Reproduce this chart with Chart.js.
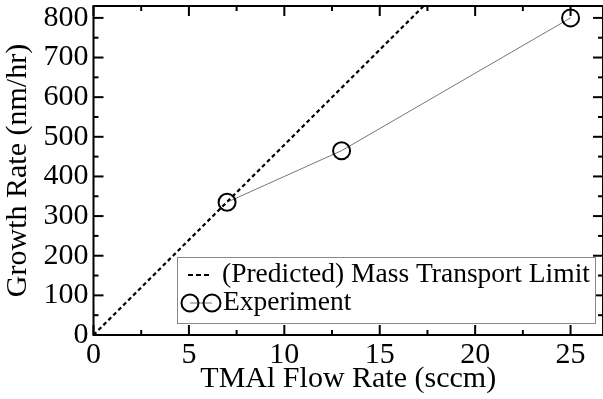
<!DOCTYPE html>
<html>
<head>
<meta charset="utf-8">
<script src="https://cdn.jsdelivr.net/npm/chart.js@4/dist/chart.umd.min.js"></script>
<style>
  html, body { margin: 0; padding: 0; background: #fff; }
  #wrap { width: 603px; height: 399px; }
</style>
</head>
<body>
<div id="wrap"><canvas id="gr"></canvas></div>
<script>
// values
const flowRate = [7, 13, 25];
const growthRate = [335, 465, 800];
const limitFlow = [0, 17.3];
const limitRate = [0, 830];
const xTicks = [0, 5, 10, 15, 20, 25];
const yTicks = [0, 100, 200, 300, 400, 500, 600, 700, 800];

const serif = 'Liberation Serif';

// inward ticks + frame, like the xmgrace original
const frame = {
  id: 'frame',
  afterDraw(chart) {
    const ctx = chart.ctx;
    const a = chart.chartArea;
    const xs = chart.scales.x, ys = chart.scales.y;
    ctx.save();
    ctx.strokeStyle = '#000';
    ctx.lineWidth = 2;
    ctx.strokeRect(a.left, a.top, a.right - a.left, a.bottom - a.top);
    const tick = (x1, y1, x2, y2) => { ctx.beginPath(); ctx.moveTo(x1, y1); ctx.lineTo(x2, y2); ctx.stroke(); };
    xTicks.forEach(v => {
      const px = xs.getPixelForValue(v);
      tick(px, a.bottom, px, a.bottom - 10);
      tick(px, a.top, px, a.top + 10);
      const pm = xs.getPixelForValue(v + 2.5);
      if (pm < a.right) {
        tick(pm, a.bottom, pm, a.bottom - 5);
        tick(pm, a.top, pm, a.top + 5);
      }
    });
    yTicks.forEach(v => {
      const py = ys.getPixelForValue(v);
      tick(a.left, py, a.left + 10, py);
      tick(a.right, py, a.right - 10, py);
      const pm = ys.getPixelForValue(v + 50);
      if (pm > a.top) {
        tick(a.left, pm, a.left + 5, pm);
        tick(a.right, pm, a.right - 5, pm);
      }
    });
    ctx.restore();
  }
};

// legend box inside the plot, lower right
const boxLegend = {
  id: 'boxLegend',
  afterDraw(chart) {
    const ctx = chart.ctx;
    const ds = chart.data.datasets;
    const bx = 177, by = 257, bw = 418, bh = 66;
    ctx.save();
    ctx.fillStyle = '#fff';
    ctx.fillRect(bx, by, bw, bh);
    ctx.strokeStyle = '#888';
    ctx.lineWidth = 1;
    ctx.strokeRect(bx + 0.5, by + 0.5, bw, bh);

    ctx.font = '27.5px "' + serif + '"';
    ctx.fillStyle = '#000';
    ctx.textBaseline = 'middle';

    // dashed limit line
    const y1 = by + 18;
    ctx.strokeStyle = ds[0].borderColor;
    ctx.lineWidth = 2;
    ctx.setLineDash([5, 3]);
    ctx.beginPath(); ctx.moveTo(bx + 11, y1); ctx.lineTo(bx + 34, y1); ctx.stroke();
    ctx.setLineDash([]);
    ctx.fillText(ds[0].label, bx + 45, y1);

    // experiment symbol pair
    const y2 = by + 46;
    ctx.strokeStyle = ds[1].borderColor;
    ctx.lineWidth = ds[1].borderWidth;
    ctx.beginPath(); ctx.moveTo(bx + 13, y2); ctx.lineTo(bx + 35, y2); ctx.stroke();
    ctx.strokeStyle = ds[1].pointBorderColor;
    ctx.lineWidth = ds[1].pointBorderWidth;
    [bx + 13, bx + 35].forEach(cx => {
      ctx.beginPath(); ctx.arc(cx, y2, ds[1].pointRadius, 0, Math.PI * 2); ctx.stroke();
    });
    ctx.fillText(ds[1].label, bx + 46, y2);
    ctx.restore();
  }
};

const noPad = s => { s.paddingTop = 0; s.paddingBottom = 0; s.paddingLeft = 0; s.paddingRight = 0; };

new Chart(document.getElementById('gr'), {
  type: 'scatter',
  data: {
    datasets: [{
      label: '(Predicted) Mass Transport Limit',
      data: limitFlow.map((x, i) => ({ x, y: limitRate[i] })),
      showLine: true,
      borderColor: '#000',
      borderWidth: 2.2,
      borderDash: [4, 3],
      pointRadius: 0
    }, {
      label: 'Experiment',
      data: flowRate.map((x, i) => ({ x, y: growthRate[i] })),
      showLine: true,
      borderColor: '#777',
      borderWidth: 1,
      pointRadius: 8.5,
      pointBorderColor: '#000',
      pointBorderWidth: 2,
      pointBackgroundColor: 'rgba(0,0,0,0)'
    }]
  },
  options: {
    responsive: true,
    maintainAspectRatio: false,
    animation: false,
    // right edge of the frame sits just past the canvas, as in the original
    layout: { autoPadding: false, padding: { top: 6, right: -2, left: 0, bottom: 0 } },
    plugins: { legend: { display: false }, tooltip: { enabled: false } },
    scales: {
      x: {
        type: 'linear',
        min: 0,
        max: 26.7,
        afterFit(s) { s.height = 64; noPad(s); },
        afterBuildTicks(s) { s.ticks = xTicks.map(v => ({ value: v })); },
        grid: { drawOnChartArea: false, drawTicks: false },
        border: { display: false },
        ticks: { color: '#000', padding: 2, maxRotation: 0, font: { family: serif, size: 30 } },
        title: { display: true, text: 'TMAl Flow Rate (sccm)', color: '#000', padding: { top: 0, bottom: 2 }, font: { family: serif, size: 30 } }
      },
      y: {
        min: 0,
        max: 830,
        afterFit(s) { s.width = 93.5; noPad(s); },
        afterBuildTicks(s) { s.ticks = yTicks.map(v => ({ value: v })); },
        grid: { drawOnChartArea: false, drawTicks: false },
        border: { display: false },
        ticks: { color: '#000', padding: 5, font: { family: serif, size: 30 } },
        title: { display: true, text: 'Growth Rate (nm/hr)', color: '#000', padding: { top: 0, bottom: 6 }, font: { family: serif, size: 30 } }
      }
    }
  },
  plugins: [frame, boxLegend]
});
</script>
</body>
</html>
